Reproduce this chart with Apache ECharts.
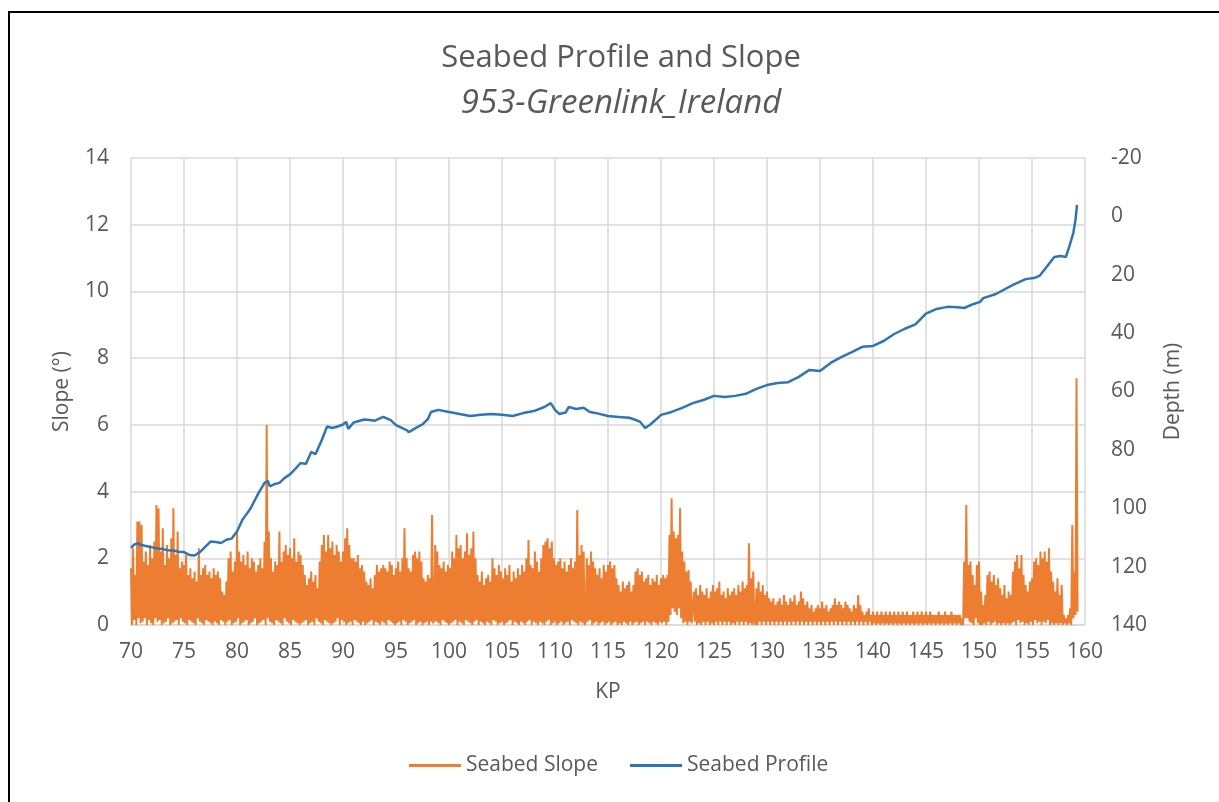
<!DOCTYPE html>
<html>
<head>
<meta charset="utf-8">
<title>Seabed Profile and Slope</title>
<script src="https://cdn.jsdelivr.net/npm/echarts@6/dist/echarts.min.js"></script>
<style>
  html, body { margin: 0; padding: 0; background: #ffffff; }
  #chart { width: 1219px; height: 802px; }
</style>
</head>
<body>
<div id="chart"></div>
<script>
// Chart text
const titleText = 'Seabed Profile and Slope';
const subtitleText = '953-Greenlink_Ireland';
const slopeName = 'Seabed Slope';
const profileName = 'Seabed Profile';
const kpAxisName = 'KP';
const slopeAxisName = 'Slope (°)';
const depthAxisName = 'Depth (m)';

// Axis ranges
const kpRange = [70, 160, 5];        // min, max, interval
const slopeRange = [0, 14, 2];
const depthRange = [-20, 140, 20];

// Seabed slope (degrees), sampled every 0.1 KP from KP 70.0
const slopeStartKp = 70.0;
const slopeStepKp = 0.1;
const slopeValues = [
  /* 70 */ 1.7,0.0,2.3,0.15,1.5,0.0,3.1,0.2,3.1,0.05,
  /* 71 */ 3.0,0.1,1.9,0.2,2.2,0.0,1.8,0.15,2.4,0.05,
  /* 72 */ 2.0,0.0,2.5,0.2,3.6,0.1,3.5,0.15,2.2,0.0,
  /* 73 */ 2.9,0.05,1.8,0.1,2.4,0.2,2.0,0.0,2.6,0.05,
  /* 74 */ 3.5,0.1,2.1,0.15,2.8,0.0,1.7,0.2,1.9,0.1,
  /* 75 */ 1.8,0.05,2.1,0.0,1.5,0.15,1.7,0.1,1.4,0.05,
  /* 76 */ 1.6,0.0,1.3,0.2,2.3,0.1,1.5,0.05,1.7,0.0,
  /* 77 */ 1.8,0.15,1.5,0.1,1.6,0.05,1.4,0.0,1.7,0.1,
  /* 78 */ 1.5,0.05,1.6,0.0,1.4,0.15,1.0,0.1,0.9,0.0,
  /* 79 */ 1.3,0.1,2.0,0.15,2.2,0.0,1.6,0.05,1.9,0.1,
  /* 80 */ 2.8,0.2,2.2,0.0,1.9,0.05,2.1,0.1,1.8,0.15,
  /* 81 */ 2.2,0.0,1.7,0.05,2.0,0.1,1.9,0.2,1.6,0.0,
  /* 82 */ 1.8,0.05,2.0,0.1,1.7,0.15,2.5,0.0,6.0,0.2,
  /* 83 */ 2.8,0.1,2.0,0.05,1.6,0.0,1.9,0.15,1.8,0.1,
  /* 84 */ 2.8,0.05,1.9,0.0,2.2,0.2,2.4,0.1,2.1,0.05,
  /* 85 */ 2.3,0.0,2.0,0.15,2.6,0.1,1.9,0.05,2.2,0.0,
  /* 86 */ 2.1,0.05,1.8,0.1,1.5,0.15,1.2,0.0,1.4,0.05,
  /* 87 */ 1.6,0.1,1.3,0.0,1.5,0.2,1.1,0.1,1.9,0.05,
  /* 88 */ 2.4,0.0,2.7,0.15,2.2,0.1,2.7,0.05,2.3,0.0,
  /* 89 */ 2.5,0.05,2.1,0.1,2.4,0.2,2.2,0.0,1.9,0.15,
  /* 90 */ 2.2,0.1,2.6,0.0,2.9,0.05,2.4,0.1,2.0,0.0,
  /* 91 */ 2.0,0.15,1.9,0.1,2.1,0.05,1.7,0.0,1.8,0.1,
  /* 92 */ 1.6,0.0,1.3,0.05,1.2,0.1,1.4,0.15,1.1,0.0,
  /* 93 */ 1.5,0.1,1.8,0.05,1.6,0.0,1.7,0.1,1.8,0.05,
  /* 94 */ 1.7,0.0,1.6,0.15,1.9,0.1,1.8,0.05,1.5,0.0,
  /* 95 */ 1.7,0.05,1.9,0.1,1.6,0.0,2.0,0.15,2.9,0.1,
  /* 96 */ 2.0,0.0,1.7,0.05,1.6,0.1,2.1,0.15,2.2,0.0,
  /* 97 */ 2.0,0.05,2.2,0.1,1.9,0.0,1.4,0.05,1.3,0.1,
  /* 98 */ 1.5,0.0,1.4,0.1,3.3,0.05,0.15,2.4,0.1,2.2,
  /* 99 */ 0.05,1.8,0.0,1.7,0.15,1.9,0.1,1.6,0.05,1.8,
  /* 100 */ 0.0,1.7,0.05,2.2,0.1,2.0,0.15,2.7,0.0,2.3,
  /* 101 */ 0.1,2.4,0.05,2.0,0.0,2.2,0.15,2.75,0.1,2.1,
  /* 102 */ 0.05,2.3,0.0,2.8,0.1,2.0,0.15,1.5,0.0,1.3,
  /* 103 */ 0.1,1.6,0.05,1.2,0.0,1.4,0.1,1.5,0.05,1.3,
  /* 104 */ 0.0,2.0,0.15,1.7,0.1,1.5,0.0,1.8,0.05,1.6,
  /* 105 */ 0.1,1.4,0.0,1.7,0.05,1.5,0.1,1.8,0.15,1.3,
  /* 106 */ 0.0,1.6,0.1,1.4,0.05,1.7,0.0,1.5,0.1,1.8,
  /* 107 */ 0.05,1.6,0.0,2.0,0.1,2.55,0.15,1.8,0.0,1.7,
  /* 108 */ 0.1,2.2,0.05,1.9,0.0,1.6,0.1,2.0,0.05,2.4,
  /* 109 */ 0.0,2.5,0.1,2.6,0.15,2.3,0.0,2.5,0.05,2.0,
  /* 110 */ 0.1,1.8,0.0,1.9,0.05,2.0,0.1,1.7,0.0,1.9,
  /* 111 */ 0.05,1.6,0.1,1.8,0.0,2.0,0.15,1.7,0.1,1.9,
  /* 112 */ 0.05,3.45,0.0,2.1,0.1,2.4,0.05,2.2,0.0,0.1,
  /* 113 */ 2.0,0.1,1.8,0.15,2.2,0.0,1.9,0.05,1.7,0.1,
  /* 114 */ 1.5,0.0,1.7,0.05,1.4,0.1,1.8,0.0,1.6,0.05,
  /* 115 */ 1.8,0.1,1.9,0.0,1.7,0.05,1.8,0.1,1.4,0.0,
  /* 116 */ 1.2,0.05,1.0,0.0,1.3,0.1,1.1,0.05,1.2,0.0,
  /* 117 */ 1.3,0.1,1.0,0.0,1.2,0.05,1.6,0.1,1.7,0.0,
  /* 118 */ 1.5,0.05,1.6,0.1,1.3,0.0,1.4,0.1,1.5,0.05,
  /* 119 */ 1.2,0.0,1.4,0.1,1.3,0.05,1.5,0.0,1.2,0.1,
  /* 120 */ 1.4,0.05,1.5,0.1,1.4,0.0,1.5,0.1,2.7,0.3,
  /* 121 */ 3.8,0.5,2.8,0.4,2.6,0.3,2.7,0.5,3.5,0.2,
  /* 122 */ 2.2,0.05,1.9,0.1,1.6,0.0,1.65,0.1,1.3,0.05,
  /* 123 */ 0.0,1.0,0.1,1.1,0.0,0.9,0.05,1.2,0.0,1.0,
  /* 124 */ 0.1,0.9,0.0,1.1,0.1,0.8,0.0,1.0,0.05,1.2,
  /* 125 */ 0.0,1.0,0.1,1.1,0.0,1.3,0.1,0.9,0.0,1.0,
  /* 126 */ 0.1,0.8,0.0,1.1,0.1,0.9,0.0,1.0,0.05,1.1,
  /* 127 */ 0.0,0.9,0.1,1.2,0.0,1.0,0.1,1.3,0.0,1.1,
  /* 128 */ 0.1,1.2,0.0,2.45,0.05,1.4,0.0,1.6,0.1,0.0,
  /* 129 */ 1.1,0.0,1.3,0.1,1.0,0.0,1.2,0.1,0.9,0.0,
  /* 130 */ 1.0,0.1,0.8,0.0,0.7,0.1,0.8,0.0,0.6,0.1,
  /* 131 */ 0.7,0.0,0.8,0.1,0.6,0.0,0.9,0.1,0.7,0.0,
  /* 132 */ 0.6,0.1,0.8,0.0,0.7,0.1,0.9,0.0,0.6,0.1,
  /* 133 */ 0.7,0.0,1.0,0.1,0.8,0.0,0.6,0.1,0.7,0.0,
  /* 134 */ 0.5,0.1,0.6,0.0,0.4,0.1,0.5,0.0,0.6,0.1,
  /* 135 */ 0.5,0.0,0.7,0.1,0.5,0.0,0.6,0.1,0.4,0.0,
  /* 136 */ 0.5,0.1,0.6,0.0,0.8,0.1,0.6,0.0,0.7,0.1,
  /* 137 */ 0.6,0.0,0.5,0.1,0.7,0.0,0.6,0.1,0.5,0.0,
  /* 138 */ 0.4,0.1,0.6,0.0,0.5,0.1,0.9,0.0,0.6,0.1,
  /* 139 */ 0.4,0.0,0.3,0.1,0.4,0.0,0.5,0.1,0.3,0.0,
  /* 140 */ 0.4,0.05,0.3,0.0,0.4,0.05,0.3,0.0,0.4,0.05,
  /* 141 */ 0.3,0.0,0.4,0.05,0.3,0.0,0.4,0.05,0.3,0.0,
  /* 142 */ 0.4,0.05,0.3,0.0,0.4,0.05,0.3,0.0,0.4,0.05,
  /* 143 */ 0.3,0.0,0.4,0.05,0.3,0.0,0.3,0.05,0.4,0.0,
  /* 144 */ 0.3,0.05,0.4,0.0,0.3,0.05,0.4,0.0,0.3,0.05,
  /* 145 */ 0.4,0.0,0.3,0.05,0.4,0.0,0.3,0.05,0.3,0.0,
  /* 146 */ 0.3,0.05,0.4,0.0,0.3,0.05,0.3,0.0,0.4,0.05,
  /* 147 */ 0.3,0.0,0.3,0.05,0.4,0.0,0.3,0.05,0.3,0.0,
  /* 148 */ 0.3,0.05,0.3,0.0,0.2,0.0,1.9,0.2,3.6,0.2,
  /* 149 */ 1.8,0.1,1.9,0.05,1.5,0.0,1.2,0.2,1.8,0.05,
  /* 150 */ 1.9,0.0,1.0,0.0,0.6,0.05,0.9,0.0,1.5,0.1,
  /* 151 */ 1.6,0.0,1.3,0.05,1.5,0.1,1.2,0.0,1.4,0.05,
  /* 152 */ 1.1,0.0,0.9,0.05,1.2,0.0,0.8,0.05,1.0,0.0,
  /* 153 */ 0.9,0.05,1.6,0.1,1.9,0.0,2.1,0.15,1.7,0.05,
  /* 154 */ 2.1,0.1,1.5,0.0,1.2,0.05,1.0,0.0,1.3,0.1,
  /* 155 */ 1.4,0.0,1.9,0.15,2.0,0.05,1.8,0.1,2.2,0.0,
  /* 156 */ 2.0,0.1,2.2,0.05,1.9,0.15,2.3,0.0,1.6,0.05,
  /* 157 */ 1.3,0.0,1.0,0.05,1.4,0.0,0.9,0.05,1.2,0.0,
  /* 158 */ 0.3,0.05,0.2,0.0,0.3,0.05,0.5,0.0,3.0,0.2,
  /* 159 */ 1.6,0.3,7.4,0.4
];

// Seabed profile: depth (m) along the route
const profileKp = [
  70.0, 70.3, 70.6, 71.0, 71.5, 72.0, 72.5, 73.0, 73.5, 74.0,
  74.5, 75.0, 75.5, 76.0, 76.5, 77.0, 77.5, 78.0, 78.5, 79.0,
  79.5, 80.0, 80.5, 81.0, 81.3, 82.0, 82.6, 82.9, 83.1, 83.5,
  84.0, 84.5, 85.0, 85.5, 86.0, 86.5, 87.0, 87.4, 88.0, 88.5,
  89.0, 89.5, 90.0, 90.3, 90.5, 91.0, 92.0, 92.5, 93.0, 93.8,
  94.5, 95.0, 96.0, 96.2, 97.0, 97.5, 98.0, 98.3, 99.0, 100.0,
  101.0, 102.0, 103.0, 104.0, 105.0, 106.0, 107.0, 108.0, 109.0, 109.6,
  110.0, 110.4, 111.0, 111.3, 112.0, 112.7, 113.3, 114.0, 115.0, 116.0,
  117.0, 117.5, 118.0, 118.5, 119.0, 119.5, 120.0, 121.0, 122.0, 123.0,
  124.0, 125.0, 126.0, 127.0, 128.0, 129.0, 130.0, 131.0, 132.0, 133.0,
  134.0, 135.0, 136.0, 137.0, 138.0, 139.0, 140.0, 141.0, 142.0, 143.0,
  144.0, 145.0, 146.0, 147.0, 148.0, 148.6, 149.5, 150.1, 150.4, 151.6,
  153.2, 154.4, 155.3, 155.7, 156.3, 157.1, 157.7, 158.2, 158.5, 158.9,
  159.1, 159.25
];
const profileDepth = [
  113.6, 112.5, 112.0, 112.6, 113.0, 113.4, 113.8, 114.0, 114.4, 114.5,
  114.9, 115.0, 116.0, 116.2, 115.0, 113.2, 111.4, 111.6, 111.9, 110.8,
  110.4, 108.0, 104.0, 101.5, 99.9, 95.0, 91.3, 90.6, 92.5, 91.8,
  91.3, 89.6, 88.4, 86.5, 84.5, 84.8, 80.7, 81.5, 76.6, 72.0,
  72.5, 72.0, 71.3, 70.4, 72.8, 70.6, 69.6, 69.8, 70.0, 68.7,
  69.8, 71.5, 73.2, 73.9, 72.2, 71.3, 69.5, 67.0, 66.3, 67.0,
  67.7, 68.4, 68.0, 67.7, 68.0, 68.4, 67.4, 66.7, 65.3, 64.0,
  66.3, 67.7, 67.2, 65.3, 66.0, 65.6, 67.0, 67.5, 68.4, 68.7,
  69.0, 69.6, 70.3, 72.5, 71.3, 69.7, 68.0, 67.0, 65.6, 64.0,
  62.9, 61.5, 61.9, 61.5, 60.8, 59.1, 57.8, 57.1, 56.8, 55.0,
  52.6, 53.0, 50.2, 48.2, 46.5, 44.7, 44.4, 42.7, 40.3, 38.5,
  37.0, 33.3, 31.7, 31.0, 31.1, 31.4, 30.0, 29.3, 28.0, 26.6,
  23.5, 21.5, 21.0, 20.4, 17.7, 13.9, 13.6, 13.9, 10.5, 5.7,
  1.2, -3.9
];

const slopeColor = '#ED7D31';
const profileColor = '#2E75B6';
const textColor = '#595959';
const gridColor = '#D9D9D9';
const fontFamily = '"Open Sans", "Noto Sans", sans-serif';

const slopeData = slopeValues.map((v, i) => [Number((slopeStartKp + i * slopeStepKp).toFixed(2)), v]);
const profileData = profileKp.map((kp, i) => [kp, profileDepth[i]]);

const chart = echarts.init(document.getElementById('chart'), null, { renderer: 'canvas' });

chart.setOption({
  animation: false,
  backgroundColor: '#ffffff',
  textStyle: { fontFamily: fontFamily, color: textColor },
  graphic: [{
    type: 'rect',
    shape: { x: 9, y: 12, width: 1400, height: 1000 },
    style: { fill: 'none', stroke: '#000000', lineWidth: 2 },
    silent: true
  }],
  title: [{
    text: titleText,
    left: 616,
    top: 38,
    textAlign: 'center',
    textStyle: { fontFamily: fontFamily, fontSize: 31, fontWeight: 'normal', color: textColor }
  }, {
    text: subtitleText,
    left: 616,
    top: 82,
    textAlign: 'center',
    textStyle: { fontFamily: fontFamily, fontSize: 33, fontWeight: 'normal', fontStyle: 'italic', color: textColor }
  }],
  legend: {
    data: [{ name: slopeName, icon: 'rect' }, { name: profileName, icon: 'rect' }],
    bottom: 21,
    left: 404,
    itemWidth: 52,
    itemHeight: 3,
    itemGap: 32,
    textStyle: { fontFamily: fontFamily, fontSize: 21, color: textColor }
  },
  grid: { left: 131, right: 134, top: 158, bottom: 177, containLabel: false },
  xAxis: {
    type: 'value',
    min: kpRange[0],
    max: kpRange[1],
    interval: kpRange[2],
    name: kpAxisName,
    nameLocation: 'middle',
    nameGap: 57,
    nameTextStyle: { fontFamily: fontFamily, fontSize: 21, color: textColor },
    axisLine: { show: true, lineStyle: { color: gridColor, width: 1.5 } },
    axisTick: { show: false },
    axisLabel: { fontFamily: fontFamily, fontSize: 21, color: textColor, margin: 17 },
    splitLine: { show: true, lineStyle: { color: gridColor, width: 1.5 } }
  },
  yAxis: [{
    type: 'value',
    position: 'left',
    min: slopeRange[0],
    max: slopeRange[1],
    interval: slopeRange[2],
    name: slopeAxisName,
    nameLocation: 'middle',
    nameGap: 58,
    nameRotate: 90,
    nameTextStyle: { fontFamily: fontFamily, fontSize: 21, color: textColor },
    axisLine: { show: false },
    axisTick: { show: false },
    axisLabel: { fontFamily: fontFamily, fontSize: 21, color: textColor, margin: 22 },
    splitLine: { show: true, lineStyle: { color: gridColor, width: 1.5 } }
  }, {
    type: 'value',
    position: 'right',
    inverse: true,
    min: depthRange[0],
    max: depthRange[1],
    interval: depthRange[2],
    name: depthAxisName,
    nameLocation: 'middle',
    nameGap: 78,
    nameRotate: 90,
    nameTextStyle: { fontFamily: fontFamily, fontSize: 21, color: textColor },
    axisLine: { show: false },
    axisTick: { show: false },
    axisLabel: { fontFamily: fontFamily, fontSize: 21, color: textColor, margin: 26 },
    splitLine: { show: false }
  }],
  series: [{
    name: slopeName,
    type: 'line',
    yAxisIndex: 0,
    data: slopeData,
    showSymbol: false,
    symbol: 'none',
    sampling: null,
    lineStyle: { color: slopeColor, width: 2 },
    itemStyle: { color: slopeColor },
    z: 2
  }, {
    name: profileName,
    type: 'line',
    yAxisIndex: 1,
    data: profileData,
    showSymbol: false,
    symbol: 'none',
    lineStyle: { color: profileColor, width: 2.5 },
    itemStyle: { color: profileColor },
    z: 3
  }]
});
</script>
</body>
</html>
